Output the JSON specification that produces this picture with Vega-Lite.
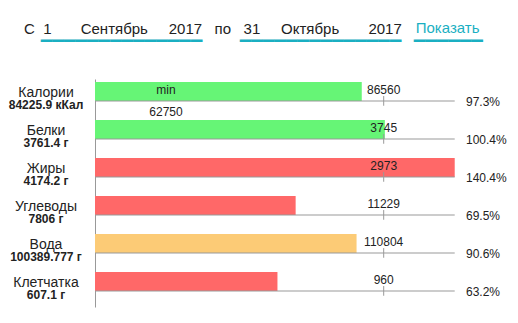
{
  "$schema": "https://vega.github.io/schema/vega-lite/v6.json",
  "width": 423,
  "height": 228,
  "autosize": {"type": "none"},
  "padding": {"left": 95, "top": 79, "right": 0, "bottom": 16},
  "background": "white",
  "config": {
    "view": {"stroke": null},
    "font": "Liberation Sans",
    "text": {"font": "Liberation Sans"}
  },
  "title": {
    "text": "С\u00a0\u00a01\u00a0\u00a0\u00a0\u00a0\u00a0\u00a0\u00a0Сентябрь\u00a0\u00a0\u00a0\u00a0\u00a02017\u00a0\u00a0\u00a0по\u00a0\u00a0\u00a031\u00a0\u00a0\u00a0\u00a0\u00a0Октябрь\u00a0\u00a0\u00a0\u00a0\u00a0\u00a0\u00a02017",
    "subtitle": [
      "\u200b\u00a0\u00a0\u00a0\u00a0\u00a0\u00a0\u00a0\u00a0\u00a0\u00a0\u00a0\u00a0\u00a0\u00a0\u00a0\u00a0\u00a0\u00a0\u00a0\u00a0\u00a0\u00a0\u00a0\u00a0\u00a0\u00a0\u00a0\u00a0\u00a0\u00a0\u00a0\u00a0\u00a0\u00a0\u00a0\u00a0\u00a0\u00a0\u00a0\u00a0\u00a0\u00a0\u00a0\u00a0\u00a0\u00a0\u00a0\u00a0\u00a0\u00a0\u00a0\u00a0\u00a0\u00a0\u00a0\u00a0\u00a0\u00a0\u00a0\u00a0\u00a0\u00a0\u00a0\u00a0\u00a0\u00a0\u00a0\u00a0\u00a0\u00a0\u00a0\u00a0\u00a0\u00a0\u00a0\u00a0\u00a0\u00a0\u00a0\u00a0\u00a0\u00a0\u00a0\u00a0\u00a0\u00a0\u00a0\u00a0\u00a0\u00a0\u00a0\u00a0\u00a0\u00a0Показать",
      "\u200b\u00a0\u00a0\u00a0\u00a0▁▁▁▁▁▁▁▁▁▁▁▁▁▁\u00a0\u00a0\u00a0\u00a0\u00a0\u00a0\u00a0\u00a0\u00a0▁▁▁▁▁▁▁▁▁▁▁▁▁▁\u00a0\u00a0\u00a0▁▁▁▁▁▁"
    ],
    "anchor": "start",
    "frame": "group",
    "orient": "top",
    "dx": -71,
    "offset": 37,
    "font": "Liberation Sans",
    "fontSize": 15,
    "fontWeight": "normal",
    "color": "#222222",
    "subtitleFont": "Liberation Sans, DejaVu Sans",
    "subtitleFontSize": 15,
    "subtitleColor": "#1aafc2",
    "subtitlePadding": -16,
    "subtitleLineHeight": 5
  },
  "datasets": {
    "rows": [
      {"name": "Калории", "total": "84225.9 кКал", "bar": 0.924, "pct": 0.973, "norm": 86560, "status": "норма", "min": 62750},
      {"name": "Белки", "total": "3761.4 г", "bar": 1.004, "pct": 1.004, "norm": 3745, "status": "норма", "min": null},
      {"name": "Жиры", "total": "4174.2 г", "bar": 1.246, "pct": 1.404, "norm": 2973, "status": "превышение", "min": null},
      {"name": "Углеводы", "total": "7806 г", "bar": 0.695, "pct": 0.695, "norm": 11229, "status": "недостаток", "min": null},
      {"name": "Вода", "total": "100389.777 г", "bar": 0.906, "pct": 0.906, "norm": 110804, "status": "близко", "min": null},
      {"name": "Клетчатка", "total": "607.1 г", "bar": 0.632, "pct": 0.632, "norm": 960, "status": "недостаток", "min": null}
    ]
  },
  "layer": [
    {
      "data": {"name": "rows"},
      "encoding": {
        "y": {
          "field": "name",
          "type": "nominal",
          "sort": null,
          "scale": {"type": "band", "paddingInner": 0.5, "paddingOuter": 0.25, "align": 0.158},
          "axis": {
            "orient": "left",
            "title": null,
            "domain": true,
            "domainColor": "#999999",
            "ticks": false,
            "tickSize": 0,
            "grid": false,
            "labelPadding": 49.5,
            "labelAlign": "center",
            "labelBaseline": "alphabetic",
            "labelOffset": 5.8,
            "labelFont": "Liberation Sans",
            "labelFontSize": 14,
            "labelColor": "#222222",
            "labelLimit": 200
          }
        }
      },
      "layer": [
        {
          "mark": {"type": "bar"},
          "encoding": {
            "x": {"field": "bar", "type": "quantitative", "scale": {"domain": [0, 1.4652], "nice": false, "zero": true}, "axis": null},
            "color": {
              "field": "status",
              "type": "nominal",
              "scale": {"domain": ["норма", "близко", "превышение", "недостаток"], "range": ["#66f576", "#fccb76", "#ff6868", "#ff6868"]},
              "legend": null
            }
          }
        },
        {
          "mark": {"type": "rule", "color": "#999999", "strokeWidth": 1},
          "encoding": {
            "x": {"datum": 1.0, "type": "quantitative"},
            "y": {"field": "name", "type": "nominal", "sort": null, "bandPosition": 0.74},
            "y2": {"field": "name", "bandPosition": 1.25}
          }
        },
        {
          "mark": {"type": "text", "align": "center", "baseline": "alphabetic", "fontSize": 12, "color": "#222222"},
          "encoding": {
            "x": {"datum": 1.0, "type": "quantitative"},
            "y": {"field": "name", "type": "nominal", "sort": null, "bandPosition": 0.63},
            "text": {"field": "norm", "type": "quantitative", "format": "d"}
          }
        },
        {
          "mark": {"type": "text", "align": "left", "baseline": "alphabetic", "fontSize": 12, "color": "#222222"},
          "encoding": {
            "x": {"datum": 1.285, "type": "quantitative"},
            "y": {"field": "name", "type": "nominal", "sort": null, "bandPosition": 1.25},
            "text": {"field": "pct", "type": "quantitative", "format": ".1%"}
          }
        },
        {
          "transform": [{"filter": "datum.min != null"}],
          "mark": {"type": "text", "align": "center", "baseline": "alphabetic", "fontSize": 12, "color": "#222222"},
          "encoding": {
            "x": {"datum": 0.246, "type": "quantitative"},
            "y": {"field": "name", "type": "nominal", "sort": null, "bandPosition": 0.63},
            "text": {"value": "min"}
          }
        },
        {
          "transform": [{"filter": "datum.min != null"}],
          "mark": {"type": "text", "align": "center", "baseline": "alphabetic", "fontSize": 12, "color": "#222222"},
          "encoding": {
            "x": {"datum": 0.246, "type": "quantitative"},
            "y": {"field": "name", "type": "nominal", "sort": null, "bandPosition": 1.77},
            "text": {"field": "min", "type": "quantitative", "format": "d"}
          }
        }
      ]
    },
    {
      "data": {"name": "rows"},
      "mark": {"type": "rule", "color": "#999999", "strokeWidth": 1},
      "encoding": {
        "y": {
          "field": "total",
          "type": "nominal",
          "sort": null,
          "bandPosition": 1,
          "scale": {"type": "band", "paddingInner": 0.5, "paddingOuter": 0.25, "align": 0.158},
          "axis": {
            "orient": "left",
            "title": null,
            "domain": false,
            "ticks": false,
            "tickSize": 0,
            "grid": false,
            "labelPadding": 49.5,
            "labelAlign": "center",
            "labelBaseline": "alphabetic",
            "labelOffset": 17.2,
            "labelFont": "Liberation Sans",
            "labelFontSize": 12,
            "labelFontWeight": "bold",
            "labelColor": "#222222",
            "labelLimit": 200
          }
        },
        "x": {"datum": 0, "type": "quantitative"},
        "x2": {"datum": 1.246}
      }
    }
  ],
  "resolve": {"scale": {"y": "independent"}, "axis": {"y": "independent"}}
}
